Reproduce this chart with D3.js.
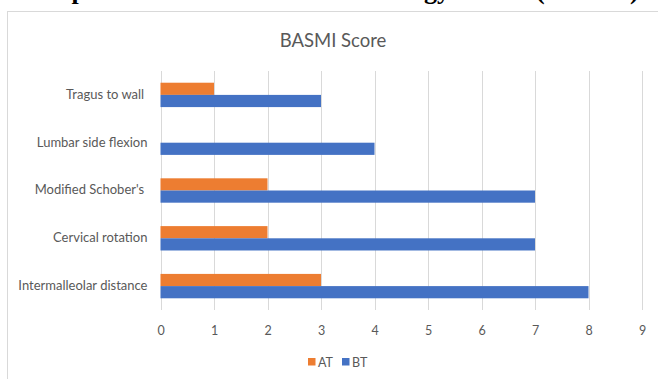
<!DOCTYPE html>
<html>
<head>
<meta charset="utf-8">
<script src="https://cdn.jsdelivr.net/npm/d3@7"></script>
<style>
  html, body { margin: 0; padding: 0; background: #fff; }
  svg { display: block; }
  text { white-space: pre; }
</style>
</head>
<body>
<svg id="chart" width="658" height="379"></svg>
<script>
// BASMI component scores before (BT) and after (AT) treatment
const categories = ["Tragus to wall ", "Lumbar side flexion", "Modified Schober's ", "Cervical rotation", "Intermalleolar distance"];
const seriesNames = ["AT", "BT"];
const atValues = [1, 0, 2, 2, 3];
const btValues = [3, 4, 7, 7, 8];
const xTicks = [0, 1, 2, 3, 4, 5, 6, 7, 8, 9];
const colors = { AT: "#ED7D31", BT: "#4472C4" };
const headingParts = ["Comparison of the", "Metrology Index", "(BASMI)"];

const font = "Lato, 'Open Sans', sans-serif";
const svg = d3.select("#chart");

// document heading above the chart; only its lower edge lies on the page
const heading = svg.append("text")
  .attr("y", -1)
  .attr("font-family", "'Liberation Serif', 'DejaVu Serif', serif")
  .attr("font-weight", "bold")
  .attr("font-size", 26)
  .attr("fill", "#000");
heading.selectAll("tspan")
  .data(headingParts)
  .join("tspan")
  .attr("x", (d, i) => [18, 335, 536][i])
  .text(d => d);

// chart area frame
svg.append("rect")
  .attr("x", 7.5).attr("y", 11.5)
  .attr("width", 700).attr("height", 400)
  .attr("fill", "#fff")
  .attr("stroke", "#d9d9d9");

svg.append("text")
  .attr("x", 333).attr("y", 47)
  .attr("text-anchor", "middle")
  .attr("font-family", font)
  .attr("font-size", 18.5)
  .attr("fill", "#595959")
  .text("BASMI Score");

const plot = { left: 160.5, right: 642, top: 71, bottom: 310 };

const x = d3.scaleLinear().domain([0, 9]).range([plot.left, plot.right]);
const y = d3.scaleBand().domain(categories).range([plot.top, plot.bottom]).paddingInner(0.49).paddingOuter(0.245);
const ySub = d3.scaleBand().domain(seriesNames).range([0, y.bandwidth()]);

// vertical gridlines
svg.append("g")
  .selectAll("line")
  .data(xTicks)
  .join("line")
  .attr("x1", d => Math.round(x(d)) + 0.5)
  .attr("x2", d => Math.round(x(d)) + 0.5)
  .attr("y1", plot.top)
  .attr("y2", plot.bottom)
  .attr("stroke", "#d9d9d9")
  .attr("stroke-width", 1);

// x axis tick labels
const xAxis = d3.axisBottom(x).tickValues(xTicks).tickSize(0).tickPadding(0).tickFormat(d3.format("d"));
const gx = svg.append("g").attr("transform", `translate(0,${plot.bottom + 25})`).call(xAxis);
gx.select(".domain").remove();
gx.selectAll("text")
  .attr("font-family", font)
  .attr("font-size", 12.5)
  .attr("fill", "#595959")
  .attr("dy", 0);

// category labels
const yAxis = d3.axisLeft(y).tickSize(0).tickPadding(0);
const gy = svg.append("g").attr("transform", `translate(${plot.left - 13},0)`).call(yAxis);
gy.select(".domain").remove();
gy.selectAll("text")
  .attr("font-family", font)
  .attr("font-size", 13)
  .attr("fill", "#595959")
  .attr("dy", "0.3em");

// bars
const rows = categories.map((c, i) => ({ category: c, AT: atValues[i], BT: btValues[i] }));
const groups = svg.append("g")
  .selectAll("g")
  .data(rows)
  .join("g")
  .attr("transform", d => `translate(0,${y(d.category)})`);

groups.selectAll("rect")
  .data(d => seriesNames.map(s => ({ series: s, value: d[s] })))
  .join("rect")
  .attr("x", x(0))
  .attr("y", d => ySub(d.series))
  .attr("width", d => x(d.value) - x(0))
  .attr("height", ySub.bandwidth())
  .attr("fill", d => colors[d.series]);

// legend
const legend = svg.append("g").attr("transform", "translate(308,362)");
const items = [{ name: "AT", dx: 0 }, { name: "BT", dx: 34 }];
const li = legend.selectAll("g").data(items).join("g").attr("transform", d => `translate(${d.dx},0)`);
li.append("rect").attr("x", 0).attr("y", -4).attr("width", 7.5).attr("height", 7.5).attr("fill", d => colors[d.name]);
li.append("text")
  .attr("x", 10).attr("y", 0)
  .attr("dy", "0.36em")
  .attr("font-family", font)
  .attr("font-size", 12.5)
  .attr("fill", "#595959")
  .text(d => d.name);
</script>
</body>
</html>
